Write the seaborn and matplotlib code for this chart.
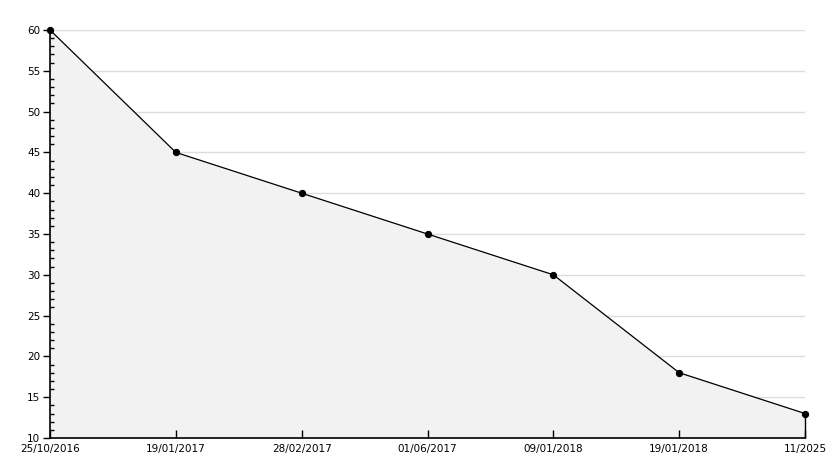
import matplotlib
matplotlib.use("Agg")
import matplotlib.pyplot as plt
import seaborn as sns
import pandas as pd
from matplotlib.ticker import MultipleLocator

# data
dates = ["25/10/2016", "19/01/2017", "28/02/2017", "01/06/2017",
         "09/01/2018", "19/01/2018", "11/2025"]
values = [60, 45, 40, 35, 30, 18, 13]

df = pd.DataFrame({"pos": range(len(dates)), "value": values})

sns.set_style("ticks")
plt.rcParams["font.family"] = ["DejaVu Sans"]
plt.rcParams["text.color"] = "black"
plt.rcParams["xtick.color"] = "black"
plt.rcParams["ytick.color"] = "black"

fig = plt.figure(figsize=(8.34, 4.68), dpi=100)
ax = fig.add_axes([50 / 834, 1 - 438 / 468, 755 / 834, 408 / 468])

ax.set_xlim(0, len(dates) - 1)
ax.set_ylim(10, 60)
ax.set_xticks(df["pos"])
ax.set_xticklabels(dates)
ax.yaxis.set_major_locator(MultipleLocator(5))
ax.yaxis.set_minor_locator(MultipleLocator(1))

# gridlines behind the fill, ticks above it
ax.hlines([t for t in ax.get_yticks() if t > 10], 0, len(dates) - 1,
          color="#dddddd", lw=1, zorder=0.1)
ax.fill_between(df["pos"], df["value"], 10, color="#f2f2f2", zorder=1)
ax.vlines(df["pos"].iloc[-1], 10, df["value"].iloc[-1], color="black", lw=1,
          zorder=2, clip_on=False)
sns.lineplot(data=df, x="pos", y="value", ax=ax, color="black", lw=0.9,
             marker="o", markersize=4.5, markeredgecolor="black", zorder=3,
             clip_on=False)
ax.set_axisbelow(False)

for s in ["top", "right"]:
    ax.spines[s].set_visible(False)
for s in ["left", "bottom"]:
    ax.spines[s].set_color("black")
    ax.spines[s].set_linewidth(1.2)

ax.tick_params(axis="y", which="major", direction="out", length=5, width=1,
               labelsize=7.5, pad=2, left=True)
ax.tick_params(axis="y", which="minor", direction="in", length=3, width=1, left=True)
ax.tick_params(axis="x", which="major", direction="in", length=6, width=1,
               labelsize=7.5, pad=4, bottom=True)
ax.set_xlabel("")
ax.set_ylabel("")

fig.savefig("out.png", dpi=100)
